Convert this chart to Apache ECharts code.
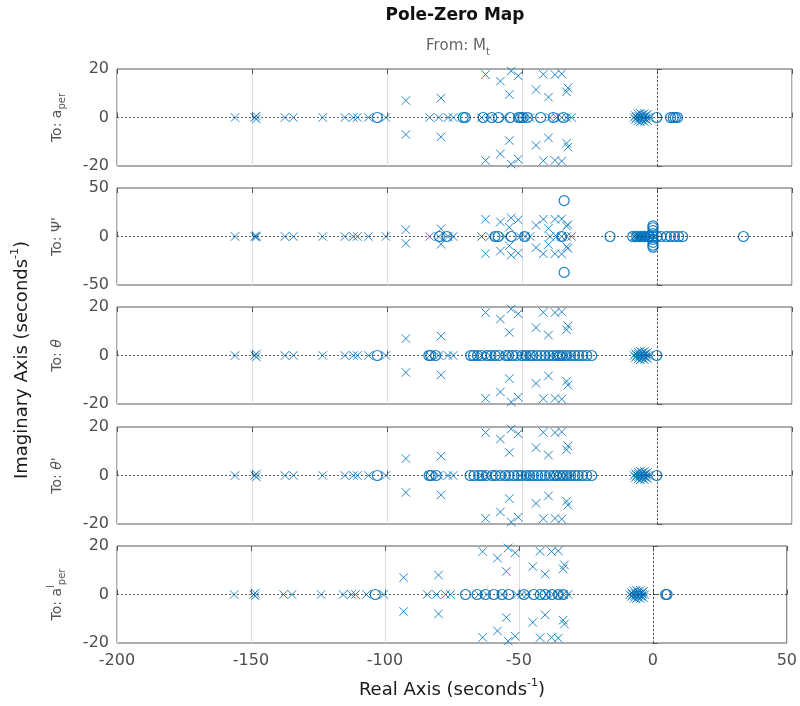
<!DOCTYPE html>
<html>
<head>
<meta charset="utf-8">
<script src="https://cdn.jsdelivr.net/npm/echarts@6/dist/echarts.min.js"></script>
<style>
  html, body { margin: 0; padding: 0; background: #ffffff; }
  #chart { width: 800px; height: 706px; }
</style>
</head>
<body>
<div id="chart"></div>
<script>
// ---- data --------------------------------------------------------------
const realTicks = [-200, -150, -100, -50, 0, 50];
const imagLimits = [20, 50, 20, 20, 20];

// Poles of the system from M_t (identical for every output) [re, im]
const poles = [
  [-156.3, 0], [-149.0, 0], [-148.4, 0.6], [-148.4, -0.6], [-137.8, 0], [-134.7, 0],
  [-123.8, 0], [-115.6, 0], [-112.5, 0], [-111.0, 0], [-106.9, 0], [-100.4, 0],
  [-93.0, 7.0], [-93.0, -7.0], [-84.2, 0], [-80.8, 0], [-77.4, 0], [-75.5, 0],
  [-80.0, 8.0], [-80.0, -8.0],
  [-63.5, 17.7], [-63.5, -17.7], [-58.0, 15.0], [-58.0, -15.0],
  [-54.0, 19.2], [-54.0, -19.2], [-51.4, 17.2], [-51.4, -17.2],
  [-54.7, 9.5], [-54.7, -9.5], [-42.1, 17.8], [-42.1, -17.8],
  [-37.8, 17.7], [-37.8, -17.7], [-35.3, 18.0], [-35.3, -18.0],
  [-44.8, 11.5], [-44.8, -11.5], [-40.2, 8.4], [-40.2, -8.4],
  [-33.5, 10.6], [-33.5, -10.6], [-33.0, 12.2], [-33.0, -12.2],
  [-65.0, 0], [-61.9, 0], [-56.3, 0], [-50.7, 0], [-48.9, 0], [-47.0, 0],
  [-39.6, 0], [-37.2, 0], [-35.3, 0], [-33.4, 0], [-31.6, 0],
  [-8.5, 0], [-8.0, 0.8], [-8.0, -0.8], [-7.5, 0], [-7.0, 1.5], [-7.0, -1.5],
  [-6.8, 0.5], [-6.8, -0.5], [-6.2, 1.8], [-6.2, -1.8], [-6.0, 0], [-5.5, 1.2],
  [-5.5, -1.2], [-5.0, 0.3], [-5.0, -0.3], [-4.7, 1.7], [-4.7, -1.7], [-4.2, 0.8],
  [-4.2, -0.8], [-3.8, 0], [-3.5, 1.3], [-3.5, -1.3], [-3.0, 0]
];

// Transmission zeros, one list per output channel [re, im]
const zerosAper = [
  [-103.6, 0], [-71.8, 0], [-71.0, 0], [-64.4, 0], [-61.2, 0], [-58.7, 0],
  [-54.4, 0], [-51.3, 0], [-50.5, 0], [-49.6, 0], [-48.0, 0], [-43.1, 0],
  [-38.4, 0], [-34.7, 0], [-0.1, 0], [5.0, 0], [6.0, 0], [6.8, 0], [7.6, 0]
];
const zerosPsiDot = [
  [-80.6, 0], [-77.8, 0], [-60.0, 0], [-58.8, 0], [-54.0, 0], [-49.0, 0], [-35.3, 0],
  [-34.4, 37.0], [-34.4, -37.0], [-17.4, 0],
  [-9.0, 0], [-7.5, 0], [-6.0, 0], [-4.5, 0], [-3.0, 0], [-1.5, 0], [0.0, 0],
  [1.5, 0], [3.5, 0], [5.0, 0], [6.5, 0], [8.0, 0], [9.5, 0],
  [-1.5, 3.0], [-1.5, -3.0], [-1.5, 6.0], [-1.5, -6.0], [-1.5, 9.0], [-1.5, -9.0],
  [-1.5, 11.0], [-1.5, -11.0], [32.0, 0]
];
const zerosTheta = [
  [-103.6, 0], [-84.5, 0], [-83.8, 0], [-82.0, 0],
  [-69.0, 0], [-68.0, 0], [-66.5, 0], [-65.0, 0], [-63.0, 0], [-61.5, 0], [-60.0, 0],
  [-58.5, 0], [-56.0, 0], [-55.0, 0], [-53.5, 0], [-52.0, 0], [-50.0, 0], [-48.5, 0],
  [-47.0, 0], [-46.0, 0], [-44.5, 0], [-43.0, 0], [-41.5, 0], [-40.0, 0], [-38.5, 0],
  [-37.0, 0], [-36.0, 0], [-35.0, 0], [-33.5, 0], [-32.0, 0], [-30.5, 0], [-29.0, 0],
  [-27.5, 0], [-26.0, 0], [-24.2, 0], [-0.1, 0]
];
const zerosThetaDot = [
  [-103.6, 0], [-84.4, 0], [-83.6, 0], [-81.8, 0],
  [-69.2, 0], [-67.8, 0], [-66.0, 0], [-64.8, 0], [-63.2, 0], [-61.0, 0], [-59.8, 0],
  [-58.0, 0], [-56.2, 0], [-54.8, 0], [-53.0, 0], [-51.6, 0], [-50.2, 0], [-48.4, 0],
  [-47.2, 0], [-45.8, 0], [-44.2, 0], [-42.8, 0], [-41.4, 0], [-39.8, 0], [-38.2, 0],
  [-37.2, 0], [-36.0, 0], [-34.8, 0], [-33.4, 0], [-32.0, 0], [-30.4, 0], [-29.2, 0],
  [-27.6, 0], [-26.0, 0], [-24.2, 0], [-0.1, 0]
];
const zerosAperL = [
  [-103.6, 0], [-69.9, 0], [-65.6, 0], [-62.5, 0], [-59.4, 0], [-56.3, 0], [-53.8, 0],
  [-48.1, 0], [-44.4, 0], [-42.0, 0], [-40.2, 0], [-37.7, 0], [-35.3, 0], [-33.5, 0],
  [4.8, 0], [5.3, 0]
];

const zeroSets = [zerosAper, zerosPsiDot, zerosTheta, zerosThetaDot, zerosAperL];

// ---- layout / style ----------------------------------------------------
const FONT = '"DejaVu Sans", Verdana, sans-serif';
const BLUE = '#0072BD';
const AXIS_GREY = '#4d4d4d';
const panelTops = [69, 188, 307, 427, 546];
const PANEL_H = 97;
const LEFT = 117, RIGHT = 8;

const measureCtx = document.createElement('canvas').getContext('2d');
function textWidth(t, size, weight, style) {
  measureCtx.font = `${style || 'normal'} ${weight || 'normal'} ${size}px ${FONT}`;
  return measureCtx.measureText(t).width;
}

// Builds a text run with sub/superscripts as a graphic group centred at (cx, cy).
function textRun(segs, cx, cy, rotation, color) {
  const widths = segs.map(s => textWidth(s.t, s.size, s.weight, s.style));
  const total = widths.reduce((a, b) => a + b, 0);
  let x = -total / 2;
  const children = segs.map((s, k) => {
    const el = {
      type: 'text',
      x: x,
      y: s.dy || 0,
      style: {
        text: s.t,
        fill: s.color || color,
        font: `${s.style || 'normal'} ${s.weight || 'normal'} ${s.size}px ${FONT}`,
        textAlign: 'left',
        textVerticalAlign: 'middle'
      }
    };
    x += widths[k];
    return el;
  });
  return { type: 'group', x: cx, y: cy, rotation: rotation || 0, silent: true, children };
}

const panelLabels = [
  [{ t: 'To: a', size: 14 }, { t: 'per', size: 10, dy: 5 }],
  [{ t: 'To: Ψ\'', size: 14 }],
  [{ t: 'To: ', size: 14 }, { t: 'θ', size: 14, style: 'italic' }],
  [{ t: 'To: ', size: 14 }, { t: 'θ\'', size: 14, style: 'italic' }],
  [{ t: 'To: a', size: 14 }, { t: 'l', size: 10, dy: -6 }, { t: 'per', size: 10, dy: 5 }]
];

const grids = [], xAxes = [], yAxes = [], series = [];
const crossPath = 'path://M0,0L10,10M10,0L0,10';

imagLimits.forEach((lim, i) => {
  grids.push({
    left: LEFT, right: RIGHT, top: panelTops[i], height: PANEL_H,
    show: true, borderColor: '#5a5a5a', borderWidth: 1, containLabel: false
  });
  xAxes.push({
    gridIndex: i, type: 'value', min: realTicks[0], max: realTicks[realTicks.length - 1],
    interval: 50, position: 'bottom',
    axisLine: { show: false },
    axisTick: { show: true, inside: true, length: 5, lineStyle: { color: '#5a5a5a' } },
    axisLabel: {
      show: i === imagLimits.length - 1, margin: 10, fontSize: 16,
      fontFamily: FONT, color: AXIS_GREY
    },
    splitLine: { show: true, lineStyle: { color: '#dedede', width: 1 } }
  });
  xAxes.push({
    gridIndex: i, type: 'value', min: realTicks[0], max: realTicks[realTicks.length - 1],
    interval: 50, position: 'top',
    axisLine: { show: false },
    axisTick: { show: true, inside: true, length: 5, lineStyle: { color: '#5a5a5a' } },
    axisLabel: { show: false },
    splitLine: { show: false }
  });
  yAxes.push({
    gridIndex: i, type: 'value', min: -lim, max: lim, interval: lim,
    axisLine: { show: false },
    axisTick: { show: true, inside: true, length: 5, lineStyle: { color: '#5a5a5a' } },
    axisLabel: { margin: 8, fontSize: 16, fontFamily: FONT, color: AXIS_GREY },
    splitLine: { show: false }
  });

  series.push({
    type: 'scatter', name: 'poles', xAxisIndex: 2 * i, yAxisIndex: i,
    data: poles, symbol: crossPath, symbolSize: 8.5, clip: true,
    itemStyle: { color: 'rgba(0,0,0,0)', borderColor: BLUE, borderWidth: 1, opacity: 0.85 },
    markLine: {
      silent: true, symbol: 'none', animation: false,
      label: { show: false },
      lineStyle: { color: '#333333', type: [2, 2], width: 0.8 },
      data: [{ yAxis: 0 }, { xAxis: 0 }]
    },
    z: 3
  });
  series.push({
    type: 'scatter', name: 'zeros', xAxisIndex: 2 * i, yAxisIndex: i,
    data: zeroSets[i], symbol: 'circle', symbolSize: 10, clip: true,
    itemStyle: { color: 'rgba(0,0,0,0)', borderColor: BLUE, borderWidth: 1.2, opacity: 0.9 },
    z: 4
  });
});

const graphics = [
  textRun([{ t: 'Pole-Zero Map', size: 17, weight: 'bold' }], 455, 16, 0, '#111111'),
  textRun([{ t: 'From: M', size: 15 }, { t: 't', size: 10, dy: 6 }], 458, 46, 0, '#666666'),
  textRun([{ t: 'Real Axis (seconds', size: 18 }, { t: '-1', size: 11, dy: -7 }, { t: ')', size: 18 }],
          452, 690, 0, '#1a1a1a'),
  textRun([{ t: 'Imaginary Axis (seconds', size: 18 }, { t: '-1', size: 11, dy: -7 }, { t: ')', size: 18 }],
          22, 360, Math.PI / 2, '#1a1a1a')
];
panelLabels.forEach((segs, i) => {
  graphics.push(textRun(segs, 57, panelTops[i] + PANEL_H / 2, Math.PI / 2, '#555555'));
});

const chart = echarts.init(document.getElementById('chart'), null, { renderer: 'canvas' });
chart.setOption({
  animation: false,
  backgroundColor: '#ffffff',
  grid: grids,
  xAxis: xAxes,
  yAxis: yAxes,
  series: series,
  graphic: graphics
});
</script>
</body>
</html>
